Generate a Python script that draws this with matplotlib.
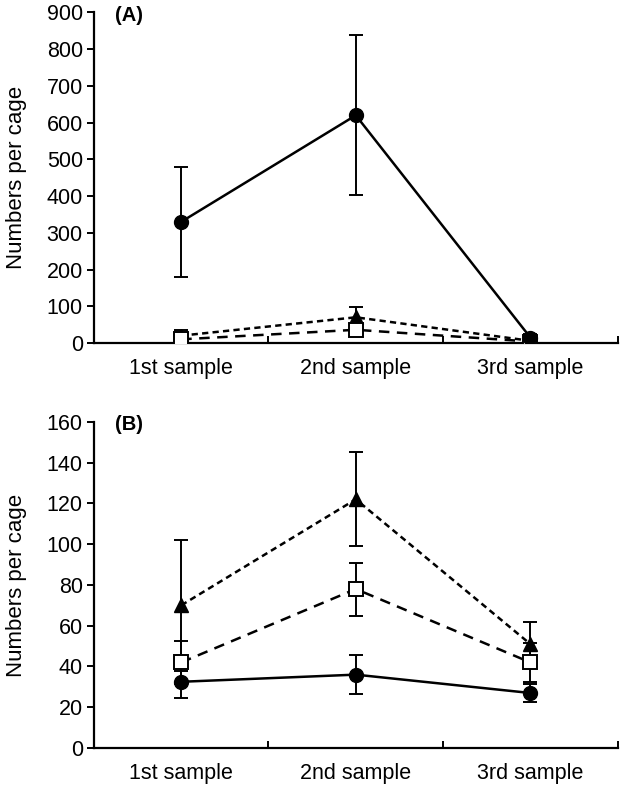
import matplotlib
matplotlib.use("Agg")
import matplotlib.pyplot as plt
import numpy as np

plt.rcParams['font.family'] = ['Liberation Sans', 'DejaVu Sans']

samples = ['1st sample', '2nd sample', '3rd sample']

# panel A
a_circle = [330, 620, 15]
a_circle_err = [150, 218, 10]
a_triangle = [20, 70, 6]
a_triangle_err = [15, 27, 4]
a_square = [10, 36, 4]
a_square_err = [8, 8, 3]

# panel B
b_circle = [32.5, 36, 27]
b_circle_err = [8, 9.5, 4.5]
b_triangle = [70, 122, 51]
b_triangle_err = [32, 23, 11]
b_square = [42, 78, 42]
b_square_err = [10.5, 13, 9.5]

LW = 1.8


def draw_panel(ax, circ, circ_err, tri, tri_err, sq, sq_err, ymax, ystep, tag):
    x = np.arange(1, len(samples) + 1)
    for y, e in ((circ, circ_err), (tri, tri_err), (sq, sq_err)):
        ax.errorbar(x, y, yerr=e, fmt='none', ecolor='k', elinewidth=1.4,
                    capsize=5, capthick=1.4, zorder=2)
    ax.plot(x, tri, color='k', lw=LW, dashes=(2.5, 1.7), marker='^',
            ms=10, mfc='k', mec='k', zorder=3)
    ax.plot(x, sq, color='k', lw=LW, dashes=(4.2, 3.0), marker='s',
            ms=10, mfc='white', mec='k', mew=1.4, zorder=4)
    ax.plot(x, circ, color='k', lw=LW, ls='-', marker='o',
            ms=10, mfc='k', mec='k', zorder=5)

    ax.set_xlim(0.5, len(samples) + 0.5)
    ax.set_ylim(0, ymax)
    ax.set_yticks(np.arange(0, ymax + 1, ystep))
    ax.set_xticks(x)
    ax.set_xticklabels(samples)
    ax.set_xticks(np.arange(0.5, len(samples) + 1, 1), minor=True)
    ax.tick_params(axis='x', which='major', length=0, pad=11, labelsize=15.5)
    ax.tick_params(axis='x', which='minor', direction='in', length=5,
                   width=1.4)
    ax.tick_params(axis='y', direction='out', length=5, width=1.4,
                   labelsize=15.5, pad=3)
    for s in ('top', 'right'):
        ax.spines[s].set_visible(False)
    for s in ('left', 'bottom'):
        ax.spines[s].set_linewidth(1.6)
    ax.set_ylabel('Numbers per cage', fontsize=16)
    ax.yaxis.set_label_coords(-0.128, 0.5)
    ax.text(0.04, 1.02, tag, transform=ax.transAxes, fontsize=14.5,
            fontweight='bold', va='top', ha='left')


fig = plt.figure(figsize=(6.22, 7.86), dpi=100)
ax_a = fig.add_axes([0.151, 0.5636, 0.842, 0.4205])
ax_b = fig.add_axes([0.151, 0.0483, 0.842, 0.4150])

draw_panel(ax_a, a_circle, a_circle_err, a_triangle, a_triangle_err,
           a_square, a_square_err, 900, 100, '(A)')
draw_panel(ax_b, b_circle, b_circle_err, b_triangle, b_triangle_err,
           b_square, b_square_err, 160, 20, '(B)')

fig.savefig('out.png', dpi=100)
